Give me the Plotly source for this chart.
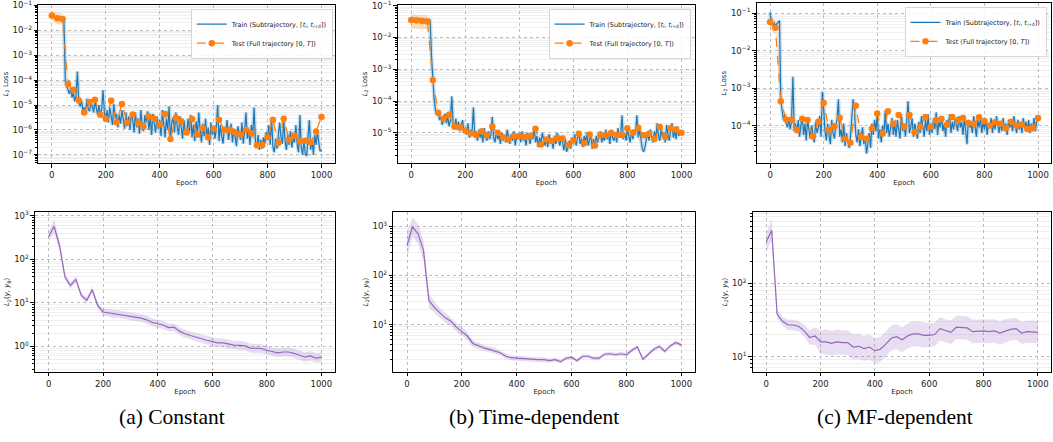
import math
import plotly.graph_objects as go

# ---------------- data (log10 values) ----------------
train_epochs = list(range(0, 1001, 5))
test_epochs = list(range(0, 1001, 20))
bottom_epochs = list(range(0, 1001, 20))

const_train_log = [
    -1.42, -1.45, -1.47, -1.48, -1.50, -1.52, -1.50, -1.53, -1.55, -1.58,
    -4.05, -4.20, -4.35, -4.55, -4.30, -4.70, -4.50, -4.85, -4.60, -3.65,
    -4.90, -5.05, -4.80, -5.20, -5.10, -5.35, -4.75, -5.15, -5.25, -4.90,
    -5.05, -5.30, -4.85, -5.20, -5.40, -5.00, -5.45, -5.15, -4.40, -5.30,
    -5.60, -5.20, -5.70, -5.10, -5.50, -5.80, -4.95, -5.55, -5.35, -5.90,
    -5.40, -5.75, -5.20, -5.65, -5.95, -5.30, -5.85, -5.45, -6.00, -5.35,
    -5.60, -6.10, -5.30, -5.90, -5.55, -6.15, -5.20, -5.80, -6.05, -5.40,
    -5.70, -5.25, -6.00, -5.50, -6.20, -5.35, -5.85, -6.10, -5.45, -5.95,
    -5.60, -6.25, -5.20, -5.90, -6.30, -5.55, -6.00, -5.05, -6.40, -5.70,
    -5.50, -6.10, -5.30, -5.85, -6.20, -5.45, -5.95, -6.35, -5.60, -6.05,
    -6.20, -5.55, -6.10, -5.40, -6.30, -5.80, -6.45, -5.65, -6.15, -5.30,
    -6.00, -6.50, -5.75, -6.25, -5.55, -6.40, -5.90, -6.60, -5.70, -6.20,
    -5.85, -6.35, -5.95, -5.00, -6.45, -5.80, -6.25, -6.55, -5.90, -6.10,
    -5.60, -6.40, -6.05, -5.75, -6.50, -5.95, -6.30, -6.65, -5.85, -6.20,
    -6.40, -5.70, -6.55, -6.05, -5.30, -6.35, -6.00, -6.60, -5.80, -6.25,
    -5.10, -6.45, -6.70, -6.20, -6.80, -6.40, -6.75, -6.30, -6.55, -6.10,
    -6.40, -5.80, -6.60, -5.50, -6.70, -6.90, -6.35, -6.75, -6.20, -5.70,
    -6.30, -6.55, -5.60, -6.45, -6.80, -6.20, -6.60, -6.05, -6.70, -6.35,
    -6.50, -5.80, -6.60, -6.90, -5.40, -6.70, -7.00, -6.45, -6.95, -7.05,
    -6.30, -5.60, -6.80, -6.40, -7.00, -6.20, -6.60, -6.10, -6.50, -6.85,
    -6.80,
]
const_test_log = [
    -1.40, -1.51, -1.54, -4.16, -4.39, -4.82, -5.30, -4.88, -4.79, -5.39,
    -5.55, -4.83, -5.69, -4.96, -5.70, -5.38, -5.73, -5.86, -5.46, -5.55,
    -5.78, -5.36, -6.37, -5.51, -5.65, -6.10, -5.56, -6.19, -5.93, -6.30,
    -5.95, -5.59, -5.99, -5.99, -6.09, -6.19, -5.99, -6.13, -6.62, -6.62,
    -6.30, -5.59, -6.53, -5.55, -6.39, -6.22, -6.46, -6.44, -6.50, -6.06,
    -5.48,
]
const_band_epochs = [0, 20, 40, 60]
const_band_lo = [-1.60, -1.75, -1.78, -4.25]
const_band_hi = [-1.25, -1.30, -1.32, -4.08]

time_train_log = [
    -1.38, -1.40, -1.42, -1.43, -1.41, -1.44, -1.42, -1.45, -1.43, -1.44,
    -1.45, -1.43, -1.46, -1.44, -1.47, -2.60, -3.40, -3.95, -4.30, -4.45,
    -4.35, -4.60, -4.50, -4.75, -4.55, -4.40, -4.70, -4.50, -4.80, -4.60,
    -3.85, -4.70, -4.85, -4.55, -4.90, -4.65, -4.95, -4.75, -4.60, -5.00,
    -4.85, -5.05, -4.70, -5.15, -4.90, -5.00, -4.20, -5.10, -4.95, -5.25,
    -4.90, -5.15, -5.00, -5.30, -4.85, -5.10, -5.25, -4.95, -5.20, -5.05,
    -4.50, -5.15, -5.30, -4.95, -5.20, -5.05, -5.35, -5.00, -5.25, -5.10,
    -5.30, -4.90, -5.20, -5.35, -5.05, -5.25, -4.95, -5.40, -5.10, -5.20,
    -5.05, -5.30, -4.95, -5.25, -5.15, -5.40, -5.00, -5.20, -5.35, -5.05,
    -5.20, -4.80, -5.30, -5.10, -5.45, -5.15, -5.35, -5.00, -5.25, -5.40,
    -5.15, -5.45, -5.05, -5.30, -5.20, -5.50, -5.10, -5.35, -5.00, -5.25,
    -5.40, -5.15, -5.30, -5.55, -5.20, -5.60, -5.45, -5.25, -5.50, -5.15,
    -5.30, -5.05, -5.40, -5.15, -4.95, -5.35, -5.20, -5.45, -5.10, -5.30,
    -5.00, -5.40, -5.25, -5.05, -5.50, -5.20, -5.45, -5.10, -5.30, -5.15,
    -4.95, -5.30, -5.10, -5.25, -4.90, -5.20, -5.05, -5.35, -4.95, -5.15,
    -5.25, -5.00, -5.30, -4.85, -5.15, -5.05, -4.45, -5.20, -5.00, -5.25,
    -4.85, -5.10, -5.30, -4.95, -5.20, -4.90, -5.05, -4.45, -5.15, -4.90,
    -5.30, -5.50, -5.60, -5.45, -5.20, -5.00, -5.25, -4.90, -5.15, -5.30,
    -4.95, -5.20, -4.70, -5.10, -5.25, -4.85, -5.15, -5.00, -5.30, -4.75,
    -5.05, -5.25, -4.90, -4.70, -5.15, -4.95, -5.20, -4.80, -5.10, -4.95,
    -5.05,
]
time_test_log = [
    -1.45, -1.47, -1.48, -1.50, -3.34, -4.37, -4.56, -4.43, -4.81, -4.82,
    -4.93, -5.02, -5.07, -4.95, -5.08, -4.80, -5.00, -5.14, -5.21, -5.10,
    -5.10, -5.13, -5.10, -4.87, -5.37, -5.21, -5.26, -5.16, -5.18, -5.39,
    -5.24, -5.03, -5.33, -5.05, -5.40, -5.08, -5.08, -5.00, -5.07, -5.07,
    -4.86, -5.00, -4.84, -5.08, -5.03, -5.19, -4.82, -5.13, -4.86, -4.90,
    -5.00,
]
time_band_epochs = [0, 20, 40, 60, 80]
time_band_lo = [-1.72, -1.74, -1.74, -1.74, -3.45]
time_band_hi = [-1.27, -1.28, -1.29, -1.30, -3.25]

mf_train_log = [
    -0.98, -1.30, -1.32, -1.28, -1.33, -1.30, -1.25, -1.20, -3.30, -3.60,
    -3.85, -3.70, -3.95, -4.05, -3.80, -4.10, -3.90, -2.70, -4.15, -3.95,
    -4.20, -3.85, -4.30, -4.00, -3.75, -4.25, -3.95, -4.40, -3.85, -4.10,
    -4.35, -4.00, -4.25, -4.45, -3.90, -4.20, -4.05, -3.75, -4.30, -3.10,
    -3.55, -4.15, -4.40, -3.95, -4.25, -4.50, -3.85, -4.20, -4.35, -4.00,
    -3.85, -3.30, -4.30, -4.10, -4.45, -3.95, -4.55, -4.20, -4.40, -4.60,
    -4.30, -3.90, -3.30, -3.60, -4.25, -4.45, -4.10, -4.55, -4.35, -4.05,
    -4.50, -4.30, -4.75, -4.40, -4.20, -4.60, -3.95, -4.25, -3.85, -4.15,
    -3.70, -4.35, -4.10, -4.45, -4.00, -4.25, -3.60, -4.20, -3.95, -4.30,
    -4.05, -3.80, -4.25, -3.95, -4.30, -3.85, -4.10, -4.35, -3.70, -4.15,
    -3.95, -4.30, -3.90, -3.35, -4.20, -4.05, -3.80, -4.30, -3.95, -4.15,
    -4.35, -3.90, -4.20, -3.75, -4.05, -4.30, -3.85, -4.15, -3.70, -4.25,
    -3.95, -4.20, -3.80, -4.10, -3.65, -4.25, -3.90, -4.05, -3.75, -4.15,
    -3.95, -4.30, -3.85, -4.05, -3.70, -4.20, -3.90, -4.10, -3.80, -4.00,
    -4.15, -3.75, -4.05, -3.90, -4.25, -3.80, -4.10, -4.50, -3.85, -4.05,
    -3.95, -4.20, -3.75, -4.10, -4.30, -3.85, -4.05, -3.80, -4.20, -3.90,
    -4.10, -3.85, -4.25, -3.95, -4.05, -3.80, -4.20, -3.90, -4.10, -3.75,
    -4.05, -4.20, -3.90, -4.15, -3.80, -4.10, -3.95, -4.25, -3.85, -4.05,
    -3.90, -4.15, -3.75, -4.05, -4.20, -3.85, -4.10, -3.95, -4.20, -3.80,
    -4.05, -3.90, -4.15, -3.85, -4.20, -3.95, -4.10, -3.80, -4.15, -3.90,
    -3.85,
]
mf_test_log = [
    -1.24, -1.39, -3.35, -3.84, -3.84, -4.12, -3.82, -3.85, -4.29, -3.90,
    -3.40, -4.11, -4.02, -3.80, -4.35, -4.46, -3.47, -4.30, -4.35, -4.08,
    -3.68, -4.21, -3.62, -3.95, -3.72, -4.03, -3.72, -4.18, -4.04, -3.77,
    -4.03, -3.86, -3.82, -3.98, -3.77, -3.86, -3.80, -3.93, -3.95, -3.78,
    -3.88, -4.00, -3.91, -3.95, -4.07, -3.90, -4.00, -3.97, -4.09, -4.07,
    -3.80,
]
mf_band_epochs = [0, 20, 40]
mf_band_lo = [-1.45, -1.55, -3.45]
mf_band_hi = [-1.05, -1.20, -3.25]

const_param_log = [
    2.52, 2.76, 2.32, 1.60, 1.40, 1.54, 1.17, 1.06, 1.30, 0.94,
    0.79, 0.77, 0.75, 0.74, 0.71, 0.69, 0.67, 0.65, 0.61, 0.55,
    0.52, 0.49, 0.43, 0.44, 0.35, 0.29, 0.25, 0.21, 0.18, 0.14,
    0.11, 0.08, 0.08, 0.05, 0.03, 0.02, 0.01, -0.04, -0.05, -0.05,
    -0.09, -0.12, -0.15, -0.13, -0.13, -0.16, -0.21, -0.25, -0.22, -0.27,
    -0.25,
]
const_param_spread = [
    0.12, 0.15, 0.12, 0.08, 0.07, 0.08, 0.07, 0.07, 0.08, 0.07,
    0.08, 0.09, 0.09, 0.09, 0.09, 0.09, 0.09, 0.09, 0.09, 0.09,
    0.09, 0.09, 0.09, 0.09, 0.09, 0.09, 0.09, 0.10, 0.10, 0.10,
    0.10, 0.10, 0.10, 0.10, 0.10, 0.10, 0.10, 0.10, 0.10, 0.10,
    0.10, 0.10, 0.10, 0.10, 0.11, 0.11, 0.11, 0.11, 0.11, 0.11,
    0.11,
]
time_param_log = [
    2.61, 2.99, 2.85, 2.51, 1.49, 1.35, 1.24, 1.14, 1.07, 0.95,
    0.86, 0.77, 0.62, 0.57, 0.53, 0.50, 0.47, 0.43, 0.36, 0.33,
    0.32, 0.31, 0.30, 0.29, 0.29, 0.29, 0.27, 0.29, 0.25, 0.32,
    0.34, 0.27, 0.36, 0.36, 0.32, 0.32, 0.40, 0.41, 0.39, 0.41,
    0.39, 0.48, 0.55, 0.30, 0.40, 0.50, 0.56, 0.46, 0.57, 0.64,
    0.59,
]
time_param_spread = [
    0.25, 0.20, 0.20, 0.20, 0.15, 0.12, 0.10, 0.10, 0.09, 0.09,
    0.08, 0.08, 0.07, 0.07, 0.06, 0.06, 0.06, 0.05, 0.05, 0.05,
    0.05, 0.05, 0.05, 0.05, 0.05, 0.05, 0.04, 0.04, 0.04, 0.04,
    0.04, 0.04, 0.04, 0.04, 0.04, 0.04, 0.04, 0.04, 0.04, 0.04,
    0.04, 0.04, 0.04, 0.04, 0.04, 0.04, 0.04, 0.04, 0.04, 0.04,
    0.04,
]
mf_param_log = [
    2.56, 2.72, 1.58, 1.48, 1.43, 1.43, 1.41, 1.35, 1.26, 1.28,
    1.20, 1.20, 1.18, 1.20, 1.19, 1.19, 1.13, 1.14, 1.11, 1.13,
    1.08, 1.10, 1.17, 1.25, 1.27, 1.23, 1.28, 1.31, 1.31, 1.29,
    1.29, 1.30, 1.38, 1.35, 1.33, 1.40, 1.40, 1.39, 1.34, 1.35,
    1.35, 1.34, 1.35, 1.32, 1.35, 1.37, 1.38, 1.32, 1.34, 1.34,
    1.33,
]
mf_param_spread = [
    0.12, 0.15, 0.06, 0.06, 0.07, 0.07, 0.07, 0.08, 0.10, 0.12,
    0.16, 0.17, 0.17, 0.17, 0.17, 0.17, 0.17, 0.17, 0.17, 0.17,
    0.17, 0.17, 0.17, 0.17, 0.17, 0.17, 0.17, 0.17, 0.17, 0.17,
    0.16, 0.16, 0.16, 0.16, 0.16, 0.16, 0.16, 0.16, 0.16, 0.16,
    0.16, 0.16, 0.16, 0.16, 0.16, 0.15, 0.15, 0.15, 0.15, 0.15,
    0.15,
]

captions = ["(a) Constant", "(b) Time-dependent", "(c) MF-dependent"]
x_ticks = [0, 200, 400, 600, 800, 1000]
# decade exponents labelled on each panel's y axis
y_tick_exps = [[-7, -6, -5, -4, -3, -2, -1], [-5, -4, -3, -2, -1], [-4, -3, -2, -1],
               [0, 1, 2, 3], [1, 2, 3], [1, 2]]

# ---------------- styling ----------------
BLUE = "#1f77b4"
ORANGE = "#ff7f0e"
PURPLE = "#9467bd"
FONT = "DejaVu Sans"
TXT = "#222222"


def pw(vals):
    return [10 ** v for v in vals]


def exp_label(n):
    s = str(n).replace("-", "\u2212")
    return f"10<sup>{s}</sup>"


fig = go.Figure()

top_sets = [
    (const_train_log, const_test_log, const_band_epochs, const_band_lo, const_band_hi),
    (time_train_log, time_test_log, time_band_epochs, time_band_lo, time_band_hi),
    (mf_train_log, mf_test_log, mf_band_epochs, mf_band_lo, mf_band_hi),
]
legend_names = ["legend", "legend2", "legend3"]
train_name = "Train (Subtrajectory, [<i>t<sub>i</sub></i>, <i>t<sub>i+δ</sub></i>])"
test_name = "Test (Full trajectory [0, <i>T</i>])"

for i, (tr, te, be, blo, bhi) in enumerate(top_sets):
    xa = "x" if i == 0 else f"x{i + 1}"
    ya = "y" if i == 0 else f"y{i + 1}"
    lg = legend_names[i]
    fig.add_trace(go.Scatter(x=be, y=pw(bhi), mode="lines", line=dict(width=0),
                             showlegend=False, hoverinfo="skip", xaxis=xa, yaxis=ya))
    fig.add_trace(go.Scatter(x=be, y=pw(blo), mode="lines", line=dict(width=0),
                             fill="tonexty", fillcolor="rgba(255,127,14,0.25)",
                             showlegend=False, hoverinfo="skip", xaxis=xa, yaxis=ya))
    fig.add_trace(go.Scatter(x=train_epochs, y=pw(tr), mode="lines",
                             line=dict(color="rgba(31,119,180,0.22)", width=4),
                             showlegend=False, hoverinfo="skip", xaxis=xa, yaxis=ya))
    fig.add_trace(go.Scatter(x=train_epochs, y=pw(tr), mode="lines", name=train_name,
                             line=dict(color=BLUE, width=1.2), legend=lg,
                             legendrank=1, xaxis=xa, yaxis=ya))
    fig.add_trace(go.Scatter(x=test_epochs, y=pw(te), mode="lines+markers", name=test_name,
                             line=dict(color=ORANGE, width=1.3, dash="dash"),
                             marker=dict(color=ORANGE, size=6.5), legend=lg,
                             legendrank=2, xaxis=xa, yaxis=ya))

bottom_sets = [
    (const_param_log, const_param_spread),
    (time_param_log, time_param_spread),
    (mf_param_log, mf_param_spread),
]
for i, (vals, spr) in enumerate(bottom_sets):
    xa = f"x{i + 4}"
    ya = f"y{i + 4}"
    hi = [v + s for v, s in zip(vals, spr)]
    lo = [v - s for v, s in zip(vals, spr)]
    fig.add_trace(go.Scatter(x=bottom_epochs, y=pw(hi), mode="lines", line=dict(width=0),
                             showlegend=False, hoverinfo="skip", xaxis=xa, yaxis=ya))
    fig.add_trace(go.Scatter(x=bottom_epochs, y=pw(lo), mode="lines", line=dict(width=0),
                             fill="tonexty", fillcolor="rgba(148,103,189,0.22)",
                             showlegend=False, hoverinfo="skip", xaxis=xa, yaxis=ya))
    fig.add_trace(go.Scatter(x=bottom_epochs, y=pw(vals), mode="lines",
                             line=dict(color=PURPLE, width=1.2),
                             showlegend=False, xaxis=xa, yaxis=ya))

# ---------------- axes ----------------
top_y = [0.6312, 0.9887]
bot_y = [0.1584, 0.5204]
x_domains = [[0.0364, 0.3181], [0.3777, 0.6600], [0.7186, 0.9985],
             [0.0332, 0.3181], [0.3735, 0.6600], [0.7148, 0.9985]]
y_domains = [top_y, top_y, [0.6312, 0.9925], bot_y, bot_y, bot_y]
y_ranges = [[-7.33, -0.98], [-5.95, -0.98], [-5.0, -0.74],
            [-0.59, 3.09], [0.04, 3.29], [0.79, 2.97]]
y_titles = ["<i>L</i><sub>2</sub> Loss"] * 3 + \
    ["<i>L</i><sub>2</sub>(<i>y</i>, <i>y</i><sub>θ</sub>)"] * 3

layout = dict(
    width=1053, height=442,
    margin=dict(l=0, r=0, t=0, b=0, autoexpand=False),
    paper_bgcolor="white", plot_bgcolor="white",
    font=dict(family=FONT, color=TXT, size=8),
)

for i in range(6):
    sfx = "" if i == 0 else str(i + 1)
    lo, hi = y_ranges[i]
    minor_vals = []
    for d in range(math.floor(lo) - 1, math.ceil(hi) + 1):
        for m in range(2, 10):
            minor_vals.append(m * 10 ** d)
    exps = y_tick_exps[i]
    layout["xaxis" + sfx] = dict(
        domain=x_domains[i], anchor="y" + sfx, range=[-50, 1050], automargin=False,
        tickmode="array", tickvals=x_ticks, ticklabeloverflow="allow",
        ticks="outside", ticklen=3.5, tickwidth=0.8, tickcolor="black",
        showline=True, linecolor="black", linewidth=1, mirror=True,
        showgrid=True, gridcolor="#bdbdbd", griddash="dot", gridwidth=0.8,
        zeroline=False, tickfont=dict(size=8.5, family=FONT, color=TXT),
        title=dict(text="Epoch", font=dict(size=7, family=FONT, color=TXT), standoff=1),
    )
    layout["yaxis" + sfx] = dict(
        domain=y_domains[i], anchor="x" + sfx, type="log", range=[lo, hi],
        automargin=False, ticklabeloverflow="allow",
        tickmode="array", tickvals=[10 ** n for n in exps],
        ticktext=[exp_label(n) for n in exps],
        ticks="outside", ticklen=3.5, tickwidth=0.8, tickcolor="black",
        showline=True, linecolor="black", linewidth=1, mirror=True,
        showgrid=True, gridcolor="#bdbdbd", griddash="dot", gridwidth=0.8,
        zeroline=False, tickfont=dict(size=8.5, family=FONT, color=TXT),
        minor=dict(tickmode="array", tickvals=minor_vals, ticks="outside", ticklen=2,
                   tickwidth=0.6, tickcolor="black", showgrid=True, griddash="solid",
                   gridcolor="#efefef", gridwidth=0.6),
        title=dict(text=y_titles[i], font=dict(size=7, family=FONT, color=TXT), standoff=3),
    )

leg_pos = [(0.3162, 0.980), (0.6560, 0.980), (0.9940, 0.984)]
for lg, (lx, ly) in zip(legend_names, leg_pos):
    layout[lg] = dict(
        x=lx, y=ly, xanchor="right", yanchor="top", traceorder="normal",
        bgcolor="rgba(255,255,255,0.85)", bordercolor="#cccccc", borderwidth=0.8,
        font=dict(size=6.5, family=FONT, color=TXT), itemwidth=30, tracegroupgap=0,
    )

fig.update_layout(**layout)

cap_x = [0.163, 0.507, 0.850]
for cx, txt in zip(cap_x, captions):
    fig.add_annotation(x=cx, y=0.0566, xref="paper", yref="paper", text=txt,
                       showarrow=False, xanchor="center", yanchor="middle",
                       font=dict(family="Liberation Serif", size=21.5, color="black"))

fig.write_html(
    "out.html",
    config={"displayModeBar": False},
    post_script="document.body.style.margin='0px';document.body.style.padding='0px';",
)
